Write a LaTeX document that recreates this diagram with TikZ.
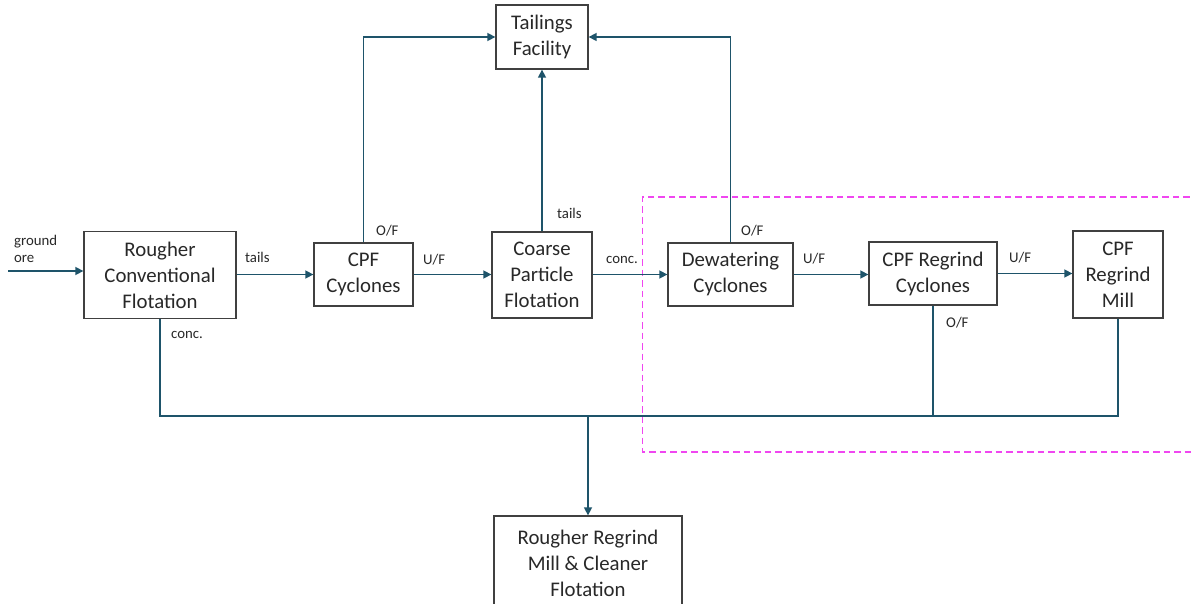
\documentclass[tikz,border=0pt]{standalone}
\usepackage{fontspec}
\setmainfont{Carlito}
\usetikzlibrary{arrows.meta}
\definecolor{flow}{RGB}{30,84,106}
\definecolor{boxline}{RGB}{64,64,64}
\definecolor{txt}{RGB}{40,40,40}
\definecolor{zone}{RGB}{240,70,240}
\tikzset{
  unitbox/.style={draw=boxline, line width=1.3pt, fill=white, inner sep=0pt, align=center,
    text=txt, font=\fontsize{20.8}{26}\selectfont},
  flowline/.style={draw=flow, line width=1.5pt},
  flowarrow/.style={flowline, -{Triangle[length=8pt,width=8pt]}},
  lbl/.style={anchor=west, inner sep=0pt, text=txt, font=\fontsize{14.8}{17}\selectfont, align=left},
  zonebox/.style={draw=zone, line width=1.1pt, dash pattern=on 6.5pt off 4pt}
}
\begin{document}
\begin{tikzpicture}[x=1pt,y=-1pt]
\useasboundingbox (0,0) rectangle (1193,604);
\fill[white] (0,0) rectangle (1193,604);

% dashed zone
\draw[zonebox] (1200,197) -- (642.5,197) -- (642.5,452) -- (1200,452);

% boxes
\node[unitbox, minimum width=152pt, minimum height=87pt] (ro) at (160,275) {Rougher\\Conventional\\Flotation};
\node[unitbox, minimum width=99pt, minimum height=63pt] (cc) at (363.5,274.5) {CPF\\Cyclones};
\node[unitbox, minimum width=100pt, minimum height=86pt] (cp) at (542,275) {Coarse\\Particle\\Flotation};
\node[unitbox, minimum width=92pt, minimum height=64pt] (tf) at (542,37) {Tailings\\Facility};
\node[unitbox, minimum width=125pt, minimum height=63pt] (dw) at (730.5,274.5) {Dewatering\\Cyclones};
\node[unitbox, minimum width=128pt, minimum height=63pt] (rc) at (933,273.5) {CPF Regrind\\Cyclones};
\node[unitbox, minimum width=90pt, minimum height=87pt] (mill) at (1118,274.5) {CPF\\Regrind\\Mill};
\node[unitbox, minimum width=188pt, minimum height=94pt] (rr) at (588,563) {Rougher Regrind\\Mill \& Cleaner\\Flotation};

% free ends
\coordinate (ore) at (8,271);
\coordinate (bus) at (0,416);

% connectors
\draw[flowarrow] (ore) -- (ore -| ro.west);
\draw[flowarrow] (ro.east |- cc.west) -- (cc.west);
\draw[flowarrow] (cc.east) -- (cc.east -| cp.west);
\draw[flowarrow] (cc.north) |- (tf.west);
\draw[flowarrow] (cp.north) -- (tf.south);
\draw[flowarrow] (dw.north) |- (tf.east);
\draw[flowarrow] (cp.east |- dw.west) -- (dw.west);
\draw[flowarrow] (dw.east) -- (dw.east -| rc.west);
\draw[flowarrow] (rc.east) -- (rc.east -| mill.west);
\draw[flowline] (ro.south) -- (ro.south |- bus) -- (mill.south |- bus) -- (mill.south);
\draw[flowline] (rc.south) -- (rc.south |- bus);
\draw[flowarrow] (rr.north |- bus) -- (rr.north);

% labels
\node[lbl] (lore) at (14,248.5) {ground\\ore};
\node[lbl] (l1) at (245,257) {tails};
\node[lbl] (l2) at (376,231) {O/F};
\node[lbl] (l3) at (423,260) {U/F};
\node[lbl] (l4) at (557,213) {tails};
\node[lbl] (l5) at (606,260) {conc.};
\node[lbl] (l6) at (741,231) {O/F};
\node[lbl] (l7) at (803,259) {U/F};
\node[lbl] (l8) at (1009,258) {U/F};
\node[lbl] (l9) at (946,323) {O/F};
\node[lbl] (l10) at (171,335) {conc.};
\end{tikzpicture}
\end{document}
